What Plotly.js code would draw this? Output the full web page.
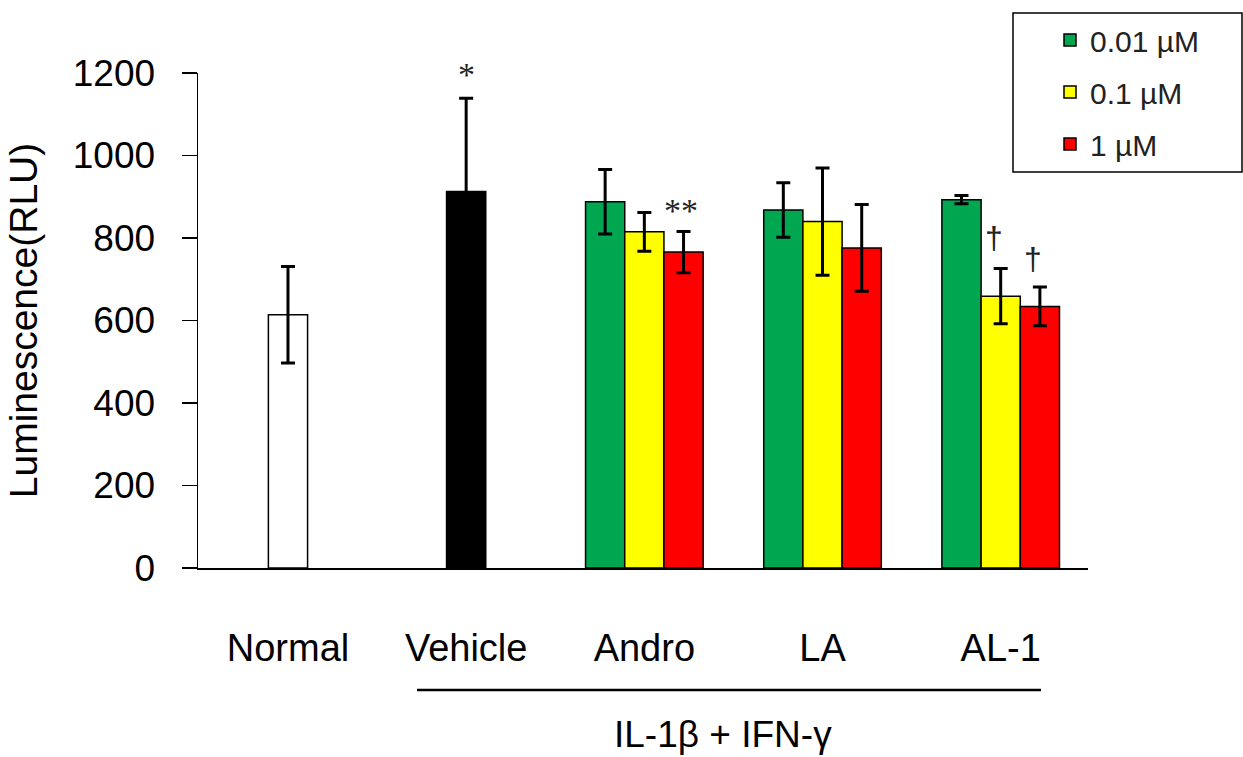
<!DOCTYPE html>
<html><head><meta charset="utf-8">
<script src="https://cdn.plot.ly/plotly-3.0.1.min.js"></script>
<style>html,body{margin:0;padding:0;background:#fff}#chart{width:1243px;height:757px}</style>
</head><body><div id="chart"></div>
<script>
// ---- data ----
const categories = ['Normal', 'Vehicle', 'Andro', 'LA', 'AL-1'];
const controlGroups = ['Normal', 'Vehicle'];
const controlValues = [614, 913];
const controlErrors = [117, 226];
const controlColors = ['#ffffff', '#000000'];

const treatmentGroups = ['Andro', 'LA', 'AL-1'];
const doseLabels = ['0.01 µM', '0.1 µM', '1 µM'];
const doseColors = ['#00a650', '#ffff00', '#ff0000'];
const dose001Values = [888, 868, 893];
const dose001Errors = [78, 66, 10];
const dose01Values = [815, 840, 659];
const dose01Errors = [47, 130, 67];
const dose1Values = [766, 776, 634];
const dose1Errors = [50, 105, 47];

const yTicks = [0, 200, 400, 600, 800, 1000, 1200];
const stimulusLabel = 'IL-1β + IFN-γ';

// significance marks: category, dose index (-1 = control bar), symbol
const markCategories = ['Vehicle', 'Andro', 'AL-1', 'AL-1'];
const markDoses = [-1, 2, 1, 2];
const markTexts = ['*', '**', '†', '†'];

// ---- layout constants ----
const W = 1243, H = 757;
const L = 198, R = 1088, T = 73, B = 568;
const barW = 0.22;
const doseOffsets = [-1.5 * barW, -0.5 * barW, 0.5 * barW];
const FONT = 'Liberation Sans, Arial, sans-serif';
const SERIF = 'Liberation Serif, Times New Roman, serif';

const doseValues = [dose001Values, dose01Values, dose1Values];
const doseErrors = [dose001Errors, dose01Errors, dose1Errors];

const traces = [{
  type: 'bar', x: controlGroups, y: controlValues,
  width: barW, offset: -barW / 2,
  marker: {color: controlColors, line: {color: '#000', width: 1.5}},
  error_y: {type: 'data', array: controlErrors, visible: true, color: '#000', thickness: 3, width: 7},
  showlegend: false, hoverinfo: 'skip'
}];
doseLabels.forEach((lab, k) => {
  traces.push({
    type: 'bar', name: lab, legendgroup: lab,
    x: treatmentGroups, y: doseValues[k],
    width: barW, offset: doseOffsets[k],
    marker: {color: doseColors[k], line: {color: '#000', width: 1.5}},
    error_y: {type: 'data', array: doseErrors[k], visible: true, color: '#000', thickness: 3, width: 7},
    hoverinfo: 'skip'
  });
});

const pw = R - L, ph = B - T;
const px2paperX = p => (p - L) / pw;
const px2paperY = p => (B - p) / ph;

const markShift = {'*': 24, '**': 21, '†': 31};
const annotations = markCategories.map((c, i) => {
  const ci = categories.indexOf(c);
  const d = markDoses[i];
  let v, e, xc;
  if (d < 0) {
    const j = controlGroups.indexOf(c);
    v = controlValues[j]; e = controlErrors[j]; xc = ci;
  } else {
    const j = treatmentGroups.indexOf(c);
    v = doseValues[d][j]; e = doseErrors[d][j]; xc = ci + doseOffsets[d] + barW / 2;
  }
  const isDagger = markTexts[i] === '†';
  return {
    xref: 'x', yref: 'y', x: xc, y: v + e, text: markTexts[i],
    showarrow: false, xanchor: 'center', yanchor: 'middle',
    xshift: isDagger ? -7 : (markTexts[i] === '**' ? -3 : 0),
    yshift: markShift[markTexts[i]] + (isDagger && d === 2 ? -3 : 0),
    font: {family: isDagger ? FONT : SERIF, size: isDagger ? 32 : 34, color: '#222'}
  };
});
annotations.push({
  xref: 'x', yref: 'paper', x: (categories.indexOf('Vehicle') + categories.indexOf('AL-1')) / 2,
  xshift: -10,
  y: px2paperY(734), text: stimulusLabel, showarrow: false,
  xanchor: 'center', yanchor: 'middle', font: {family: FONT, size: 37, color: '#000'}
});

const shapes = [
  // bracket under the stimulated groups
  {type: 'line', xref: 'x', yref: 'paper',
   x0: categories.indexOf('Vehicle') - 0.276, x1: categories.indexOf('AL-1') + 0.226,
   y0: px2paperY(690), y1: px2paperY(690), line: {color: '#000', width: 2.5}},
  // legend frame
  {type: 'rect', xref: 'paper', yref: 'paper',
   x0: px2paperX(1013), x1: px2paperX(1242), y0: px2paperY(172), y1: px2paperY(13),
   line: {color: '#000', width: 1.5}, fillcolor: 'rgba(0,0,0,0)'}
];

const layout = {
  width: W, height: H,
  margin: {l: L, r: W - R, t: T, b: H - B, autoexpand: false},
  paper_bgcolor: '#fff', plot_bgcolor: '#fff',
  barmode: 'overlay', bargap: 0,
  font: {family: FONT, color: '#000'},
  showlegend: true,
  legend: {
    x: px2paperX(1050), y: px2paperY(14), xanchor: 'left', yanchor: 'top',
    bgcolor: 'rgba(0,0,0,0)', borderwidth: 0, tracegroupgap: 10,
    font: {family: FONT, size: 30, color: '#222'}
  },
  xaxis: {
    type: 'category', categoryorder: 'array', categoryarray: categories,
    range: [-0.505, 4.49], showline: true, linecolor: '#000', linewidth: 2,
    ticks: '', showgrid: false, zeroline: false, fixedrange: true,
    tickfont: {family: FONT, size: 38, color: '#000'}, ticklabelstandoff: 45
  },
  yaxis: {
    range: [0, 1200], tickvals: yTicks, ticktext: yTicks.map(String),
    showline: true, linecolor: '#000', linewidth: 1.5,
    ticks: 'outside', ticklen: 15, tickwidth: 1.5, tickcolor: '#000',
    showgrid: false, zeroline: false, fixedrange: true,
    tickfont: {family: FONT, size: 37, color: '#000'}, ticklabelstandoff: 19,
    title: {text: 'Luminescence(RLU)', font: {family: FONT, size: 39, color: '#000'}, standoff: 23}
  },
  annotations: annotations,
  shapes: shapes
};

Plotly.newPlot('chart', traces, layout, {staticPlot: true, displayModeBar: false});
</script>
</body></html>
